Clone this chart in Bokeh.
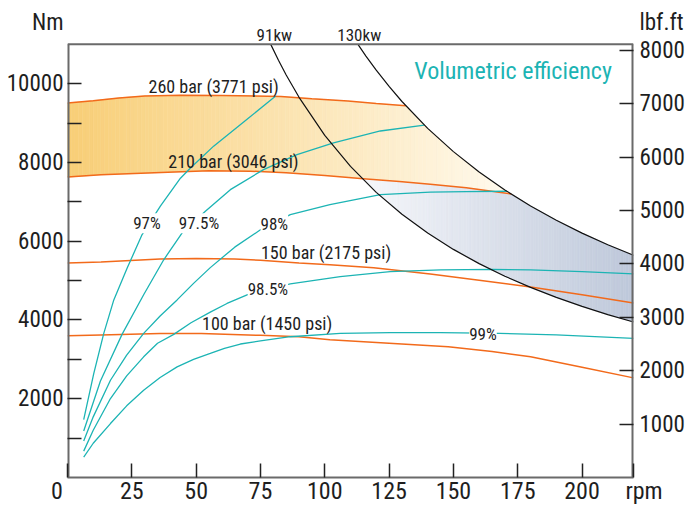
import numpy as np
from bokeh.plotting import figure
from bokeh.models import Range1d, LinearAxis, FixedTicker, Label, LabelSet, ColumnDataSource
from bokeh.core.properties import value
from bokeh.embed import file_html
from bokeh.resources import INLINE

# ---------------- data ----------------
NM_PER_LBFFT = 1.35582

# pressure lines (torque Nm vs rpm)
p260_rpm = [0, 10, 20, 30, 44, 60, 83, 95, 109, 120, 131.5]
p260_nm = [9510, 9570, 9640, 9690, 9705, 9700, 9675, 9620, 9560, 9500, 9440]

p210_rpm = [0, 13, 39, 55, 71, 85, 100, 115, 129, 141, 155, 172.5]
p210_nm = [7630, 7690, 7755, 7790, 7780, 7740, 7670, 7590, 7515, 7445, 7360, 7200]

p150_rpm = [0, 13, 36, 50, 65, 75, 90, 102, 119, 141, 160, 180, 200, 220]
p150_nm = [5450, 5475, 5550, 5560, 5550, 5515, 5450, 5400, 5325, 5170, 5010, 4840, 4640, 4430]

p100_rpm = [0, 13, 36, 52, 75, 90, 102, 125, 148, 165, 180, 200, 220]
p100_nm = [3600, 3618, 3655, 3660, 3610, 3575, 3500, 3410, 3320, 3200, 3065, 2800, 2530]

# volumetric efficiency lines
v97_rpm = [6.3, 10.2, 14.1, 18, 23.2, 29, 36.1, 43.9, 47.8, 56.8, 69.8, 80.8]
v97_nm = [1470, 2640, 3660, 4510, 5320, 6170, 6890, 7600, 7860, 8415, 9100, 9680]

v975_rpm = [6.3, 12.8, 21.2, 29.6, 37.4, 44.5, 53.6, 63.3, 76.2, 89.2, 103.4, 121.6, 138.7]
v975_nm = [1180, 2450, 3635, 4640, 5529, 6209, 6760, 7310, 7820, 8200, 8500, 8800, 8950]

v98_rpm = [6.3, 10, 16.7, 23, 29.6, 36, 42.6, 49, 55.5, 65, 75, 86.6, 102, 121.6, 141, 155, 170.8]
v98_nm = [925, 1540, 2470, 3110, 3660, 4100, 4510, 4930, 5330, 5850, 6290, 6675, 6930, 7185,
          7245, 7262, 7270]

v985_rpm = [6.3, 10, 16.7, 23, 29.6, 35, 41.3, 48, 55.5, 62, 69.8, 86.6, 106, 125.4, 145, 165,
            180, 200, 220]
v985_nm = [670, 1200, 2005, 2580, 3065, 3410, 3635, 3930, 4200, 4420, 4640, 4920, 5100, 5230,
           5275, 5285, 5275, 5230, 5170]

v99_rpm = [6.3, 10, 16.7, 23, 29.6, 36, 42.6, 49, 55.5, 61, 67.2, 75, 86.6, 106, 125.4, 145, 168,
           190, 220]
v99_nm = [517, 870, 1370, 1820, 2217, 2540, 2810, 3000, 3150, 3280, 3390, 3470, 3575, 3660, 3677,
          3680, 3661, 3620, 3534]

# constant power lines
kw91_rpm = [79, 82, 85, 90, 100, 110, 120, 130, 140, 150, 160, 170, 180, 190, 200, 210, 220]
kw91_nm = [11000, 10597, 10223, 9655, 8690, 7900, 7242, 6685, 6207, 5793, 5431, 5112, 4828,
           4574, 4345, 4138, 3950]
kw130_rpm = [112.9, 116, 120, 125, 130, 140, 150, 160, 170, 180, 190, 200, 210, 220]
kw130_nm = [11000, 10702, 10345, 9931, 9549, 8867, 8276, 7759, 7302, 6897, 6534, 6207, 5912, 5643]

# texts
pressure_labels = ["260 bar (3771 psi)", "210  bar (3046 psi)", "150 bar  (2175 psi)",
                   "100 bar (1450 psi)"]
pressure_label_rpm = [31.5, 39.2, 75.2, 52.3]
pressure_label_nm = [9930, 8020, 5720, 3900]

eff_labels = ["97%", "97.5%", "98%", "98.5%", "99%"]
eff_label_rpm = [30.9, 51.1, 80.4, 77.9, 161.5]
eff_label_nm = [6460, 6460, 6446, 4790, 3643]

power_labels = ["91kw", "130kw"]
power_label_rpm = [80.4, 113.4]

x_ticks = [0, 25, 50, 75, 100, 125, 150, 175, 200]
y_ticks_nm = [2000, 4000, 6000, 8000, 10000]
y_tick_marks_nm = [1000, 2000, 3000, 4000, 5000, 6000, 7000, 8000, 9000, 10000]
y_ticks_lbf = [1000, 2000, 3000, 4000, 5000, 6000, 7000, 8000]

# ---------------- geometry / styling ----------------
FONT = "Roboto Condensed"
ORANGE = "#F26A1B"
TEAL = "#1CB4B4"
AXIS = "#6a6a6a"
TXT = "#1e1e1e"

X_MAX = 220          # right edge of the chart box (rpm)
Y_MAX = 11000        # top edge of the chart box (Nm)
Y_TOP = 12114        # top of the drawing area (room for the texts above the box)
NM_TITLE_LEVEL = 11556      # where the unit texts sit
LBF_TITLE_LEVEL = 8523
RPM_POS = 220

p = figure(width=689, height=509, output_backend="svg", toolbar_location=None,
           x_range=Range1d(0, X_MAX), y_range=Range1d(0, Y_TOP),
           min_border_left=67, min_border_right=56, min_border_top=0,
           min_border_bottom=32)
p.extra_y_ranges = {"lbf": Range1d(0, Y_TOP / NM_PER_LBFFT)}
p.grid.visible = False
p.outline_line_color = None
p.background_fill_color = "white"
p.border_fill_color = "white"

# ---------------- gradient fills built as thin strips ----------------
def strips(x0, x1, upper_fn, lower_fn, c0, c1, n):
    edges = np.linspace(x0, x1, n + 1)
    xs, ys, cols = [], [], []
    for i in range(n):
        a, b = edges[i], edges[i + 1]
        xx = np.linspace(a, b, 4)
        lo = lower_fn(xx)
        up = np.maximum(upper_fn(xx), lo)
        xs.append(list(xx) + list(xx[::-1]))
        ys.append(list(up) + list(lo[::-1]))
        t = (0.5 * (a + b) - x0) / (x1 - x0)
        r, g, bl = [int(round(c0[k] + (c1[k] - c0[k]) * t)) for k in range(3)]
        cols.append("#%02x%02x%02x" % (r, g, bl))
    return xs, ys, cols

def orange_up(x):
    return np.minimum(np.interp(x, p260_rpm, p260_nm), np.interp(x, kw130_rpm, kw130_nm))

def orange_lo(x):
    return np.interp(x, p210_rpm, p210_nm)

def blue_up(x):
    return np.minimum(np.interp(x, p210_rpm, p210_nm), np.interp(x, kw130_rpm, kw130_nm))

def blue_lo(x):
    return np.interp(x, kw91_rpm, kw91_nm)

oxs, oys, ocols = strips(0, p210_rpm[-1], orange_up, orange_lo,
                         (248, 206, 118), (255, 250, 238), 120)
p.patches(oxs, oys, fill_color=ocols, line_color=ocols, line_width=0.6)

bxs, bys, bcols = strips(110, X_MAX, blue_up, blue_lo,
                         (248, 249, 252), (190, 200, 218), 110)
p.patches(bxs, bys, fill_color=bcols, line_color=bcols, line_width=0.6)

# ---------------- curves ----------------
for xr, yr in [(p260_rpm, p260_nm), (p210_rpm, p210_nm), (p150_rpm, p150_nm),
               (p100_rpm, p100_nm)]:
    p.line(xr, yr, line_color=ORANGE, line_width=1.5)

for xr, yr in [(v97_rpm, v97_nm), (v975_rpm, v975_nm), (v98_rpm, v98_nm),
               (v985_rpm, v985_nm), (v99_rpm, v99_nm)]:
    p.line(xr, yr, line_color=TEAL, line_width=1.3)

for xr, yr in [(kw91_rpm, kw91_nm), (kw130_rpm, kw130_nm)]:
    p.line(xr, yr, line_color="#111111", line_width=1.2)

# chart box (left, right, top edges; the bottom one is the x axis line)
p.line([0, 0], [0, Y_MAX], line_color=AXIS, line_width=4)
p.line([X_MAX, X_MAX], [0, Y_MAX], line_color=AXIS, line_width=4)
p.line([0, X_MAX], [Y_MAX, Y_MAX], line_color=AXIS, line_width=2)

# ---------------- axes ----------------
def style_axis(ax, size="23px"):
    ax.axis_line_color = None
    ax.major_tick_in = 14
    ax.major_tick_out = 0
    ax.minor_tick_in = 14
    ax.minor_tick_out = 0
    ax.major_tick_line_color = "#222222"
    ax.minor_tick_line_color = "#222222"
    ax.major_tick_line_width = 1.5
    ax.minor_tick_line_width = 1.5
    ax.major_label_text_font = FONT
    ax.major_label_text_font_size = size
    ax.major_label_text_color = TXT

xa = p.xaxis[0]
xa.ticker = FixedTicker(ticks=x_ticks + [RPM_POS])
style_axis(xa, "24px")
xa.axis_line_color = AXIS
xa.axis_line_width = 2
xa.major_label_standoff = -1
xa.major_label_overrides = {0: "0\u2003", RPM_POS: "\u2003rpm"}

ya = p.yaxis[0]
ya.ticker = FixedTicker(ticks=y_ticks_nm + [NM_TITLE_LEVEL], minor_ticks=y_tick_marks_nm)
style_axis(ya)
ya.major_tick_in = 0
ya.major_label_standoff = 4
ya.major_label_overrides = {NM_TITLE_LEVEL: "Nm"}

ra = LinearAxis(y_range_name="lbf",
                ticker=FixedTicker(ticks=y_ticks_lbf + [LBF_TITLE_LEVEL], minor_ticks=y_ticks_lbf))
style_axis(ra)
ra.major_tick_in = 0
ra.major_label_standoff = 6
ra.major_label_overrides = {LBF_TITLE_LEVEL: "lbf.ft"}
p.add_layout(ra, "right")

# ---------------- texts ----------------
psrc = ColumnDataSource(dict(x=pressure_label_rpm, y=pressure_label_nm, t=pressure_labels))
p.add_layout(LabelSet(x="x", y="y", text="t", source=psrc, text_align="left",
                      text_baseline="middle", text_font=value(FONT),
                      text_font_size=value("18px"), text_color=TXT))

esrc = ColumnDataSource(dict(x=eff_label_rpm, y=eff_label_nm, t=eff_labels))
p.add_layout(LabelSet(x="x", y="y", text="t", source=esrc, text_align="center",
                      text_baseline="middle", text_font=value(FONT),
                      text_font_size=value("17px"), text_color=TXT,
                      background_fill_color="white", background_fill_alpha=1.0))

wsrc = ColumnDataSource(dict(x=power_label_rpm, y=[Y_MAX, Y_MAX], t=power_labels))
p.add_layout(LabelSet(x="x", y="y", text="t", source=wsrc, text_align="center",
                      text_baseline="alphabetic", y_offset=3, text_font=value(FONT),
                      text_font_size=value("17px"), text_color=TXT))

p.add_layout(Label(x=134.8, y=10318, text="Volumetric  efficiency", text_align="left",
                   text_baseline="middle", text_font=FONT, text_font_size="24px",
                   text_color=TEAL))

open("out.html", "w").write(file_html(p, INLINE))
